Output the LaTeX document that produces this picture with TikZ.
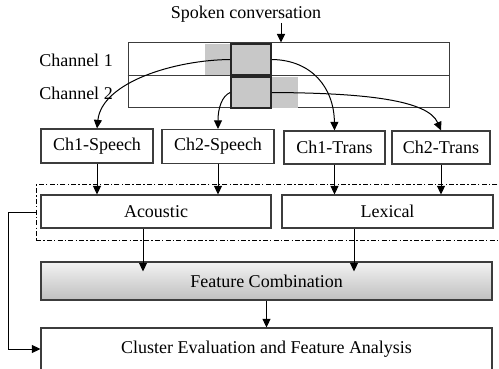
\documentclass[tikz,border=0pt]{standalone}
\usepackage{fontspec}
\setmainfont{Liberation Serif}
\usetikzlibrary{arrows.meta,calc,shadows}
\definecolor{segfill}{RGB}{200,200,200}
\definecolor{edge}{RGB}{60,60,60}
\tikzset{
  every node/.style={font=\rmfamily\fontsize{18}{21}\selectfont},
  box/.style={draw=edge, line width=1.2pt, inner sep=0pt, fill=white},
  seg/.style={draw=black!85, line width=1.6pt, fill=segfill, inner sep=0pt,
              minimum width=40, minimum height=31},
  arr/.style={draw=black, line width=1pt, -{Triangle[length=8.5pt,width=8pt]}},
  dashdotbox/.style={draw=black, line width=1pt, inner sep=0pt,
              dash pattern=on 5pt off 2.2pt on 1.4pt off 2.2pt}
}
\begin{document}
\begin{tikzpicture}[x=1pt,y=-1pt]
\clip (0,0) rectangle (499,369);
\fill[white] (0,0) rectangle (499,369);

% input signal with two channels
\node (title) at (246,14) {Spoken conversation};
\node (ch1lab) at (76,60) {Channel 1};
\node (ch2lab) at (76,93) {Channel 2};
\node[draw=edge, line width=1pt, minimum width=321, minimum height=65, inner sep=0pt]
  (stream) at (288.5,75.5) {};
\draw[edge, line width=1pt] (stream.west) -- (stream.east);
\node[fill=segfill, minimum width=26, minimum height=31, inner sep=0pt] (shade1) at (218,59.5) {};
\node[fill=segfill, minimum width=27, minimum height=31, inner sep=0pt] (shade2) at (284.5,92.5) {};
\node[seg] (c1box) at (251,59.5) {};
\node[seg] (c2box) at (251,92.5) {};

\coordinate (tin) at (281,23);
\draw[arr] (tin) -- (tin |- stream.north);

% per-channel streams
\node[box, minimum width=112, minimum height=34] (ch1s) at (97,146) {Ch1-Speech};
\node[box, minimum width=112, minimum height=34] (ch2s) at (218,146.5) {Ch2-Speech};
\node[box, minimum width=101, minimum height=33] (ch1t) at (334.5,147.5) {Ch1-Trans};
\node[box, minimum width=98, minimum height=33] (ch2t) at (441,147.5) {Ch2-Trans};

\draw[arr] (c1box.west) .. controls (175,60) and (102,82) .. (ch1s.north);
\draw[arr] (c2box.west) .. controls (222,96) and (218,108) .. (ch2s.north);
\draw[arr] (c1box.east) .. controls (312,60) and (334,88) .. (ch1t.north);
\draw[arr] (c2box.east) .. controls (365,93) and (428,100) .. (ch2t.north);

% feature extraction
\node[dashdotbox, minimum width=484, minimum height=55] (group) at (278,212.5) {};
\node[box, minimum width=230, minimum height=33] (acoustic) at (156,211.5) {Acoustic};
\node[box, minimum width=211, minimum height=33] (lexical) at (387.5,211.5) {Lexical};

\draw[arr] (ch1s.south) -- (ch1s.south |- acoustic.north);
\draw[arr] (ch2s.south) -- (ch2s.south |- acoustic.north);
\draw[arr] (ch1t.south) -- (ch1t.south |- lexical.north);
\draw[arr] (ch2t.south) -- (ch2t.south |- lexical.north);

% combination and evaluation
\node[box, minimum width=451, minimum height=38, top color=black!5, bottom color=black!25,
      drop shadow={shadow xshift=0.6pt, shadow yshift=-1.2pt, opacity=0.35}]
  (fc) at (266.5,281) {Feature Combination};
\node[box, minimum width=451, minimum height=42] (cea) at (266.5,349) {Cluster Evaluation and Feature Analysis};

\coordinate (aout) at ($(acoustic.south)+(-13,0)$);
\coordinate (lout) at ($(lexical.south)+(-33.5,0)$);
\draw[arr] (aout) -- ($(aout |- fc.north)+(0,10)$);
\draw[arr] (lout) -- ($(lout |- fc.north)+(0,10)$);
\draw[arr] (fc.south) -- (cea.north);

\draw[arr] (group.west) -- ++(-27,0) |- (cea.west);
\end{tikzpicture}
\end{document}
